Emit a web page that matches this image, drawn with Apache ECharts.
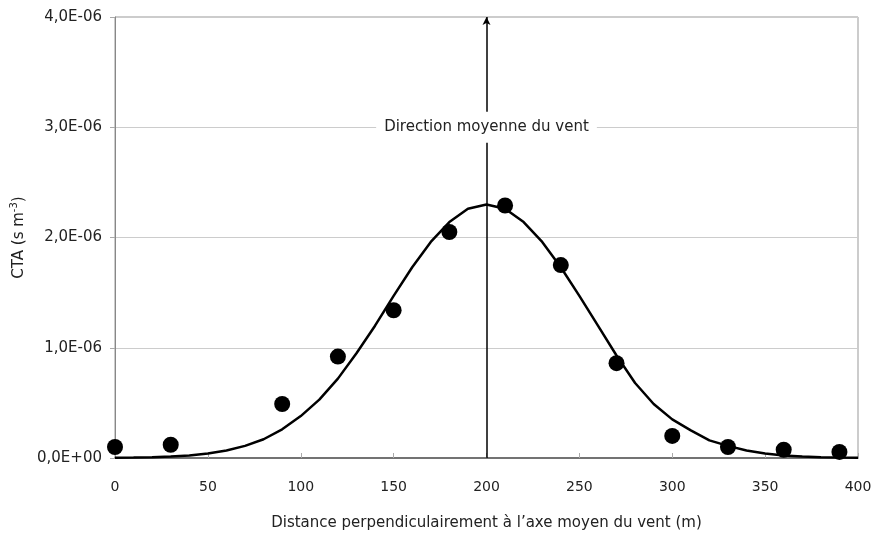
<!DOCTYPE html>
<html>
<head>
<meta charset="utf-8">
<script src="https://cdn.jsdelivr.net/npm/echarts@6/dist/echarts.min.js"></script>
<style>
  html, body { margin: 0; padding: 0; background: #fff; }
  #chart { width: 878px; height: 534px; }
</style>
</head>
<body>
<div id="chart"></div>
<script>
// measured points (distance in m, CTA in s m-3)
const pointX = [0, 30, 90, 120, 150, 180, 210, 240, 270, 300, 330, 360, 390];
const pointY = [0.10e-6, 0.12e-6, 0.49e-6, 0.92e-6, 1.34e-6, 2.05e-6, 2.29e-6,
                1.75e-6, 0.86e-6, 0.20e-6, 0.10e-6, 0.075e-6, 0.055e-6];

// modelled curve, every 10 m
const curveX = [0, 10, 20, 30, 40, 50, 60, 70, 80, 90, 100, 110, 120, 130, 140,
                150, 160, 170, 180, 190, 200, 210, 220, 230, 240, 250, 260, 270,
                280, 290, 300, 310, 320, 330, 340, 350, 360, 370, 380, 390, 400];
const curveY = [0.002e-6, 0.004e-6, 0.007e-6, 0.013e-6, 0.023e-6, 0.040e-6, 0.068e-6,
                0.11e-6, 0.17e-6, 0.26e-6, 0.38e-6, 0.53e-6, 0.72e-6, 0.95e-6, 1.20e-6,
                1.47e-6, 1.73e-6, 1.96e-6, 2.14e-6, 2.26e-6, 2.30e-6, 2.26e-6, 2.14e-6,
                1.96e-6, 1.73e-6, 1.47e-6, 1.20e-6, 0.93e-6, 0.68e-6, 0.49e-6, 0.35e-6,
                0.25e-6, 0.16e-6, 0.11e-6, 0.068e-6, 0.040e-6, 0.023e-6, 0.013e-6,
                0.007e-6, 0.004e-6, 0.002e-6];

const windX = 200;
const windLabel = 'Direction moyenne du vent';
const windLabelY = 3e-6;

const font = 'DejaVu Sans';
const textColor = '#222';

function sciLabel(v) {
    if (v === 0) return '0,0E+00';
    const e = Math.floor(Math.log10(Math.abs(v)) + 1e-9);
    const m = v / Math.pow(10, e);
    return m.toFixed(1).replace('.', ',') + 'E' + (e < 0 ? '-' : '+') + String(Math.abs(e)).padStart(2, '0');
}

const chart = echarts.init(document.getElementById('chart'));

const option = {
    backgroundColor: '#fff',
    animation: false,
    grid: {
        left: 115,
        right: 20,
        top: 17,
        bottom: 76,
        outerBoundsMode: 'none',
        show: true,
        borderColor: '#999',
        borderWidth: 1
    },
    xAxis: {
        type: 'value',
        min: 0,
        max: 400,
        interval: 50,
        name: 'Distance perpendiculairement à l\u2019axe moyen du vent (m)',
        nameLocation: 'middle',
        nameGap: 58,
        nameTextStyle: { fontFamily: font, fontSize: 15, color: textColor },
        axisLine: { lineStyle: { color: '#555', width: 1.5 } },
        axisTick: { inside: true, length: 5, lineStyle: { color: '#aaa' } },
        axisLabel: { margin: 22, fontFamily: font, fontSize: 14, color: textColor },
        splitLine: { show: false }
    },
    yAxis: {
        type: 'value',
        min: 0,
        max: 4e-6,
        interval: 1e-6,
        name: '{a|CTA (s m}{s|-3}{a|)}',
        nameLocation: 'middle',
        nameRotate: 90,
        nameGap: 86,
        nameTextStyle: {
            fontFamily: font, fontSize: 15, color: textColor,
            rich: {
                a: { fontFamily: font, fontSize: 15, color: textColor, lineHeight: 19 },
                s: { fontFamily: font, fontSize: 10, color: textColor, verticalAlign: 'top', lineHeight: 19, padding: [0, 0, 7, 0] }
            }
        },
        axisLine: { show: true, lineStyle: { color: '#888', width: 1 } },
        axisTick: { show: true, length: 5, lineStyle: { color: '#aaa' } },
        axisLabel: { margin: 13, fontFamily: font, fontSize: 15, color: textColor, formatter: sciLabel },
        splitLine: { lineStyle: { color: '#ccc', width: 1 } }
    },
    series: [
        {
            type: 'line',
            data: curveX.map((x, i) => [x, curveY[i]]),
            showSymbol: false,
            symbol: 'none',
            lineStyle: { color: '#000', width: 2.5 },
            z: 3,
            markLine: {
                silent: true,
                symbol: ['none', 'arrow'],
                symbolSize: [6, 8],
                label: { show: false },
                lineStyle: { color: '#000', width: 1.5, type: 'solid' },
                data: [[{ coord: [windX, 0] }, { coord: [windX, 4e-6] }]]
            },
            markPoint: {
                silent: true,
                symbol: 'rect',
                symbolSize: 0,
                label: {
                    show: true,
                    position: 'inside',
                    formatter: windLabel,
                    fontFamily: font,
                    fontSize: 15,
                    color: textColor,
                    backgroundColor: '#fff',
                    padding: [8, 8]
                },
                data: [{ coord: [windX, windLabelY] }]
            }
        },
        {
            type: 'scatter',
            data: pointX.map((x, i) => [x, pointY[i]]),
            symbol: 'circle',
            symbolSize: 16,
            itemStyle: { color: '#000', opacity: 1 },
            z: 4
        }
    ]
};

chart.setOption(option);
</script>
</body>
</html>
